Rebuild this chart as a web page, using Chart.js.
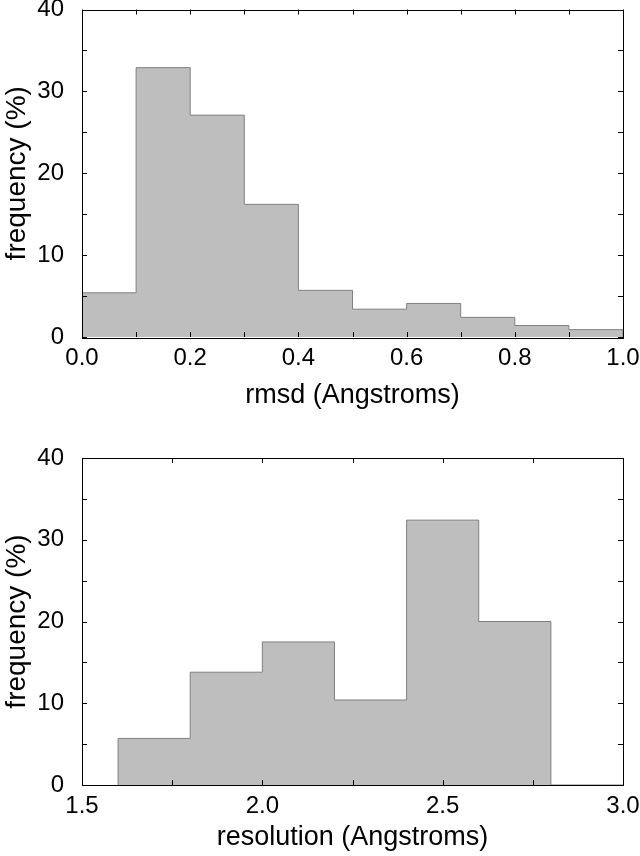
<!DOCTYPE html>
<html>
<head>
<meta charset="utf-8">
<script src="https://cdn.jsdelivr.net/npm/chart.js@4.4.1/dist/chart.umd.min.js"></script>
<style>
  body { margin: 0; background: #fff; }
  canvas { display: block; }
</style>
</head>
<body>
<canvas id="rmsdChart" width="640" height="428"></canvas>
<canvas id="resChart" width="640" height="428"></canvas>
<script>
// rmsd histogram: bin edges and frequencies (%)
const rmsdEdges = [0.0, 0.1, 0.2, 0.3, 0.4, 0.5, 0.6, 0.7, 0.8, 0.9, 1.0];
const rmsdFreq = [5.4, 32.9, 27.1, 16.2, 5.7, 3.4, 4.1, 2.4, 1.4, 0.9];

// resolution histogram
const resEdges = [1.6, 1.8, 2.0, 2.2, 2.4, 2.6, 2.8, 3.0];
const resFreq = [5.7, 13.8, 17.5, 10.4, 32.4, 20.0, 0.0];

const freqTicks = [0, 10, 20, 30, 40];

// step outline points from edges + values
function stepPoints(edges, vals) {
  const pts = [{ x: edges[0], y: 0 }];
  vals.forEach((v, i) => pts.push({ x: edges[i], y: v }));
  pts.push({ x: edges[edges.length - 1], y: vals[vals.length - 1] });
  pts.push({ x: edges[edges.length - 1], y: 0 });
  return pts;
}

// inward ticks on all four sides + black frame
const frameTicks = {
  id: 'frameTicks',
  afterDatasetsDraw(chart) {
    const { ctx, chartArea: a } = chart;
    const len = 5;
    ctx.save();
    ctx.strokeStyle = '#000';
    ctx.lineWidth = 1;
    ctx.beginPath();
    chart.scales.x.ticks.forEach(t => {
      const px = Math.round(chart.scales.x.getPixelForValue(t.value)) + 0.5;
      ctx.moveTo(px, a.bottom); ctx.lineTo(px, a.bottom - len);
      ctx.moveTo(px, a.top); ctx.lineTo(px, a.top + len);
    });
    chart.scales.y.ticks.forEach(t => {
      const py = Math.round(chart.scales.y.getPixelForValue(t.value)) + 0.5;
      ctx.moveTo(a.left, py); ctx.lineTo(a.left + len, py);
      ctx.moveTo(a.right, py); ctx.lineTo(a.right - len, py);
    });
    ctx.stroke();
    ctx.strokeRect(Math.round(a.left) + 0.5, Math.round(a.top) + 0.5,
      Math.round(a.right - a.left), Math.round(a.bottom - a.top));
    ctx.restore();
  }
};

const FONT = 'Liberation Sans, Arial, Helvetica, sans-serif';

function makeHist(id, edges, vals, xmin, xmax, xstep, xtitle, padTop, xHeight, titlePad) {
  return new Chart(document.getElementById(id), {
    type: 'line',
    data: {
      datasets: [{
        data: stepPoints(edges, vals),
        stepped: 'before',
        fill: 'origin',
        backgroundColor: '#bebebe',
        borderColor: '#808080',
        borderWidth: 1,
        pointRadius: 0,
        tension: 0
      }]
    },
    options: {
      responsive: false,
      animation: false,
      layout: { padding: { top: padTop, right: 17, bottom: 0, left: 0 } },
      plugins: { legend: { display: false }, tooltip: { enabled: false } },
      scales: {
        x: {
          type: 'linear',
          min: xmin,
          max: xmax,
          grid: { display: false, drawTicks: false },
          border: { display: false },
          ticks: {
            stepSize: xstep,
            autoSkip: false,
            maxRotation: 0,
            padding: 7,
            color: '#000',
            font: { family: FONT, size: 24 },
            callback: (v, i) => (i % 2 === 0 ? Number(v).toFixed(1) : '')
          },
          title: {
            display: true,
            text: xtitle,
            color: '#000',
            font: { family: FONT, size: 27 },
            padding: { top: 0, bottom: titlePad }
          },
          afterFit(s) { s.height = xHeight; s.paddingLeft = 0; s.paddingRight = 0; }
        },
        y: {
          min: 0,
          max: 40,
          grid: { display: false, drawTicks: false },
          border: { display: false },
          ticks: {
            stepSize: 5,
            autoSkip: false,
            padding: 18,
            color: '#000',
            font: { family: FONT, size: 24 },
            callback: v => (freqTicks.includes(v) ? String(v) : '')
          },
          title: {
            display: true,
            text: 'frequency (%)',
            color: '#000',
            font: { family: FONT, size: 28 },
            padding: { top: 0, bottom: 0 }
          },
          afterFit(s) { s.width = 82; s.paddingTop = 0; s.paddingBottom = 0; }
        }
      }
    },
    plugins: [frameTicks]
  });
}

makeHist('rmsdChart', rmsdEdges, rmsdFreq, 0, 1, 0.1, 'rmsd (Angstroms)', 9.5, 91, 16);
makeHist('resChart', resEdges, resFreq, 1.5, 3.0, 0.25, 'resolution (Angstroms)', 30, 71, 2);
</script>
</body>
</html>
